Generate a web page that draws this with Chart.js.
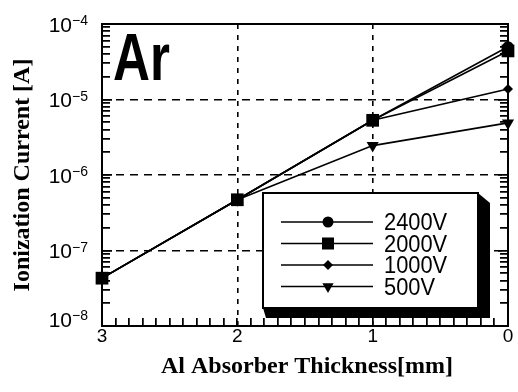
<!DOCTYPE html>
<html lang="en">
<head>
<meta charset="utf-8">
<title>Ar ionization current vs absorber thickness</title>
<script src="https://cdn.jsdelivr.net/npm/chart.js@4.4.0/dist/chart.umd.min.js"></script>
<style>
  html, body { margin: 0; padding: 0; background: #fff; }
  #arPlot { display: block; }
</style>
</head>
<body>
<canvas id="arPlot" width="518" height="392"></canvas>
<script>
///
///	Values
///

const absorberMm = [3, 2, 1, 0];
const ampsAt2400 = [4.3e-8, 4.7e-7, 5.3e-6, 5.0e-5];
const ampsAt2000 = [4.3e-8, 4.7e-7, 5.3e-6, 4.4e-5];
const ampsAt1000 = [4.3e-8, 4.7e-7, 5.3e-6, 1.38e-5];
const ampsAt500 = [4.3e-8, 4.7e-7, 2.45e-6, 4.9e-6];

const voltageNames = ["2400V", "2000V", "1000V", "500V"];
const xTickValues = [3, 2, 1, 0];
const xTickLabels = ["3", "2", "1", "0"];
const xMinorStep = 0.1;
const decades = [1e-8, 1e-7, 1e-6, 1e-5, 1e-4];
const decadeExponents = ["\u22128", "\u22127", "\u22126", "\u22125", "\u22124"];

const xTitle = "Al Absorber Thickness[mm]";
const yTitle = "Ionization Current [A]";
const gasLabel = "Ar";

const sansFont = '"Liberation Sans", Arial, Helvetica, sans-serif';
const serifFont = '"Liberation Serif", "Times New Roman", serif';
const clearInk = 'rgba(0,0,0,0)';

Chart.defaults.font.family = sansFont;
Chart.defaults.color = '#000';

function toPoints(values) {
	return absorberMm.map((t, i) => ({ x: t, y: values[i] }));
}

function lineSet(label, values, style, radius, rotation, order) {
	return {
		label: label,
		data: toPoints(values),
		borderColor: '#000',
		borderWidth: 1.6,
		backgroundColor: '#000',
		pointBackgroundColor: '#000',
		pointBorderColor: '#000',
		pointBorderWidth: 0,
		pointStyle: style,
		pointRadius: radius,
		pointRotation: rotation,
		tension: 0,
		clip: false,
		order: order
	};
}

// 2000V squares sit on top where the series overlap
const seriesSets = [
	lineSet(voltageNames[0], ampsAt2400, 'circle', 5.5, 0, 1),
	lineSet(voltageNames[1], ampsAt2000, 'rect', 9, 0, 0),
	lineSet(voltageNames[2], ampsAt1000, 'rectRot', 5, 0, 1),
	lineSet(voltageNames[3], ampsAt500, 'triangle', 7, 180, 1)
];

// marker shapes for the boxed legend
function drawMarker(ctx, style, x, y, r) {
	ctx.beginPath();
	if (style === 'circle') {
		ctx.arc(x, y, r, 0, Math.PI * 2);
	} else if (style === 'rect') {
		const s = r * Math.SQRT1_2;
		ctx.rect(x - s, y - s, 2 * s, 2 * s);
	} else if (style === 'rectRot') {
		ctx.moveTo(x, y - r);
		ctx.lineTo(x + r, y);
		ctx.lineTo(x, y + r);
		ctx.lineTo(x - r, y);
		ctx.closePath();
	} else if (style === 'triangle') {
		ctx.moveTo(x - r * 0.866, y - r * 0.5);
		ctx.lineTo(x + r * 0.866, y - r * 0.5);
		ctx.lineTo(x, y + r);
		ctx.closePath();
	}
	ctx.fill();
}

// inward ticks on the left, right and bottom edges
function paintInwardTicks(chart) {
	const ctx = chart.ctx;
	const area = chart.chartArea;
	const xs = chart.scales.x;
	const ys = chart.scales.y;
	if (!area || !xs || !ys) return;
	const L = area.left, R = area.right, B = area.bottom;
	ctx.save();
	ctx.globalAlpha = 1;
	ctx.globalCompositeOperation = 'source-over';
	ctx.fillStyle = '#000';
	decades.forEach((major, i) => {
		if (i === decades.length - 1) return;
		for (let m = 1; m < 10; m++) {
			const py = Math.round(ys.getPixelForValue(major * m));
			const len = m === 1 ? 10 : 8;
			ctx.fillRect(L, py - 1, len, 1.5);
			ctx.fillRect(R - len, py - 1, len, 1.5);
		}
	});
	for (let k = 1; k < 30; k++) {
		const px = Math.round(xs.getPixelForValue(k * xMinorStep));
		ctx.fillRect(px - 1, B - 8, 1.5, 8);
	}
	ctx.restore();
}

function paintFrame(chart) {
	const ctx = chart.ctx;
	const a = chart.chartArea;
	ctx.save();
	ctx.fillStyle = '#000';
	ctx.fillRect(a.left - 1, a.top - 1, 2, a.bottom - a.top + 2);
	ctx.fillRect(a.right - 1, a.top - 1, 2, a.bottom - a.top + 2);
	ctx.fillRect(a.left - 1, a.top - 1, a.right - a.left + 2, 2);
	ctx.fillRect(a.left - 1, a.bottom - 1, a.right - a.left + 2, 2);
	ctx.restore();
}

const axisDecor = {
	id: 'axisDecor',
	beforeDatasetsDraw(chart) {
		paintInwardTicks(chart);
	},
	afterDraw(chart) {
		paintInwardTicks(chart);
		paintFrame(chart);
	}
};

// labels, titles, the big gas label and the boxed legend
const textAndLegend = {
	id: 'textAndLegend',
	afterDraw(chart) {
		const ctx = chart.ctx;
		const area = chart.chartArea;
		const xs = chart.scales.x;
		const ys = chart.scales.y;
		ctx.save();
		ctx.fillStyle = '#000';

		ctx.font = '19px ' + sansFont;
		ctx.textAlign = 'center';
		ctx.textBaseline = 'alphabetic';
		xTickValues.forEach((v, i) => {
			ctx.fillText(xTickLabels[i], xs.getPixelForValue(v), area.bottom + 16);
		});

		decades.forEach((v, i) => {
			let py = ys.getPixelForValue(v);
			if (i === 0) py -= 7;
			ctx.font = '14px ' + sansFont;
			ctx.textAlign = 'right';
			const ew = ctx.measureText(decadeExponents[i]).width;
			ctx.fillText(decadeExponents[i], area.left - 14, py + 1);
			ctx.font = '21px ' + sansFont;
			ctx.fillText('10', area.left - 14 - ew, py + 7.5);
		});

		ctx.font = 'bold 24px ' + serifFont;
		ctx.textAlign = 'center';
		ctx.fillText(xTitle, 307, 373);
		ctx.save();
		ctx.translate(29, 175);
		ctx.rotate(-Math.PI / 2);
		ctx.fillText(yTitle, 0, 0);
		ctx.restore();

		ctx.save();
		ctx.translate(113, 80);
		ctx.scale(0.8, 1.05);
		ctx.font = 'bold 64px ' + sansFont;
		ctx.textAlign = 'left';
		ctx.fillText(gasLabel, 0, 0);
		ctx.restore();

		const bx = 263, by = 193, bw = 215, bh = 115, sh = 10;
		ctx.beginPath();
		ctx.moveTo(bx + bw, by);
		ctx.lineTo(bx + bw + sh + 2, by + sh);
		ctx.lineTo(bx + bw + sh + 2, by + bh + sh);
		ctx.lineTo(bx + 3, by + bh + sh);
		ctx.lineTo(bx, by + bh);
		ctx.closePath();
		ctx.fill();
		ctx.fillStyle = '#fff';
		ctx.fillRect(bx, by, bw, bh);
		ctx.strokeStyle = '#000';
		ctx.lineWidth = 2;
		ctx.strokeRect(bx, by, bw, bh);

		ctx.fillStyle = '#000';
		ctx.lineWidth = 1.4;
		chart.data.datasets.forEach((ds, i) => {
			const ly = 222 + i * 21.5;
			ctx.beginPath();
			ctx.moveTo(281, ly);
			ctx.lineTo(373, ly);
			ctx.stroke();
			const r = ds.pointStyle === 'rect' ? 8.5 : (ds.pointStyle === 'triangle' ? 6.5 : ds.pointRadius);
			drawMarker(ctx, ds.pointStyle, 328, ly, r);
			ctx.save();
			ctx.translate(384, ly + 8);
			ctx.scale(0.95, 1);
			ctx.font = '23px ' + sansFont;
			ctx.textAlign = 'left';
			ctx.fillText(ds.label, 0, 0);
			ctx.restore();
		});
		ctx.restore();
	}
};

new Chart(document.getElementById('arPlot'), {
	type: 'line',
	data: { datasets: seriesSets },
	options: {
		responsive: false,
		animation: false,
		layout: { padding: { left: 102, right: 10, top: 24, bottom: 66 } },
		plugins: {
			legend: { display: false },
			tooltip: { enabled: false }
		},
		scales: {
			x: {
				type: 'linear',
				reverse: true,
				min: 0,
				max: 3,
				ticks: { display: false, stepSize: 1 },
				grid: {
					drawTicks: false,
					lineWidth: 1.6,
					color: (c) => (c.tick && (c.tick.value === 0 || c.tick.value === 3)) ? clearInk : '#000'
				},
				border: { display: false, dash: [5, 6] }
			},
			y: {
				type: 'logarithmic',
				min: 1e-8,
				max: 1e-4,
				ticks: { display: false },
				afterBuildTicks: (scale) => {
					scale.ticks = decades.map(v => ({ value: v }));
				},
				grid: {
					drawTicks: false,
					lineWidth: 1.6,
					color: (c) => (c.tick && (c.tick.value <= 1e-8 || c.tick.value >= 1e-4)) ? clearInk : '#000'
				},
				border: { display: false, dash: [8, 6] }
			}
		}
	},
	plugins: [axisDecor, textAndLegend]
});
</script>
</body>
</html>
